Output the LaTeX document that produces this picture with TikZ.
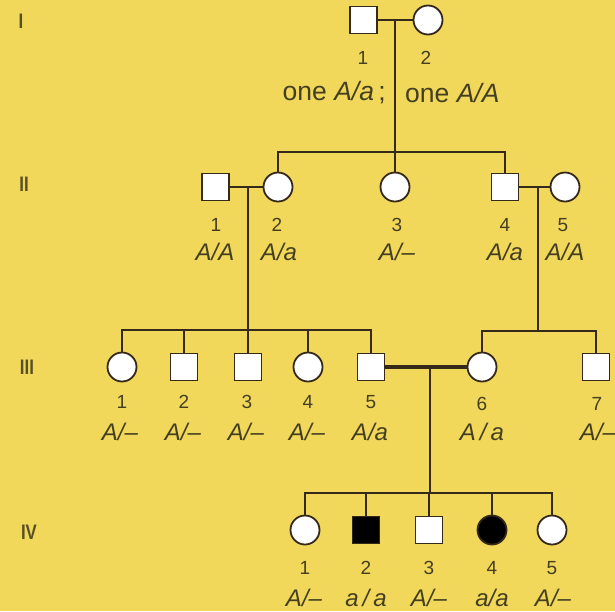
\documentclass[tikz,border=0pt]{standalone}
\usepackage{fontspec}
\setmainfont{Liberation Sans}
\usetikzlibrary{backgrounds}
\definecolor{bg}{HTML}{F1D75A}
\definecolor{linec}{HTML}{35291A}
\definecolor{txt}{HTML}{453F22}
\definecolor{gen}{HTML}{575024}
\begin{document}
\begin{tikzpicture}[x=1pt,y=-1pt,
  sq/.style={draw=linec, line width=1.8pt, fill=white, rectangle, minimum size=27pt, inner sep=0pt},
  sqa/.style={sq, fill=black},
  ci/.style={draw=linec, line width=1.8pt, fill=white, circle, minimum size=29pt, inner sep=0pt},
  cia/.style={ci, fill=black},
  ln/.style={draw=linec, line width=1.7pt},
  thickmate/.style={draw=linec, line width=3.8pt},
  num/.style={text=txt, font=\fontsize{19}{19}\selectfont, inner sep=0pt},
  gt/.style={text=txt, font=\fontsize{24}{24}\selectfont\itshape, inner sep=0pt},
  toptxt/.style={text=txt, font=\fontsize{26.5}{26.5}\selectfont, inner sep=0pt},
  genl/.style={text=gen, font=\fontsize{21}{21}\selectfont\bfseries, inner sep=0pt, xscale=0.8}
]
\useasboundingbox (0,0) rectangle (615,611);

% generation labels
\node[genl] (gI) at (21,21) {I};
\node[genl] (gII) at (24,184) {II};
\node[genl] (gIII) at (27,367) {III};
\node[genl] (gIV) at (29,532) {IV};

% ---------- Generation I ----------
\node[sq] (I1) at (363.5,20) {};
\node[ci] (I2) at (428,20) {};
\coordinate (mI) at (395,20);
\coordinate (sII) at (395,152);
\node[num] (nI1) at (363,58) {1};
\node[num] (nI2) at (426,58) {2};
\node[toptxt, anchor=east] (tI1) at (386,93) {one \itshape A/a\upshape\,;};
\node[toptxt, anchor=west] (tI2) at (405,93) {one \itshape A/A};

% ---------- Generation II ----------
\node[sq] (II1) at (215.5,187) {};
\node[ci] (II2) at (278,187) {};
\node[ci] (II3) at (395,187) {};
\node[sq] (II4) at (505,187) {};
\node[ci] (II5) at (565,187) {};
\coordinate (mII12) at (248,187);
\coordinate (mII45) at (538,187);

\node[num] (nII1) at (216,225) {1};
\node[num] (nII2) at (277,225) {2};
\node[num] (nII3) at (397,225) {3};
\node[num] (nII4) at (505,225) {4};
\node[num] (nII5) at (563,225) {5};
\node[gt] (tII1) at (215,252) {A/A};
\node[gt] (tII2) at (279,252) {A/a};
\node[gt] (tII3) at (397,252) {A/--};
\node[gt] (tII4) at (505,252) {A/a};
\node[gt] (tII5) at (565,252) {A/A};

% ---------- Generation III ----------
\node[ci] (III1) at (122,367) {};
\node[sq] (III2) at (184,367) {};
\node[sq] (III3) at (248,367) {};
\node[ci] (III4) at (308,367) {};
\node[sq] (III5) at (371,367) {};
\node[ci] (III6) at (482,367) {};
\node[sq] (III7) at (596,367) {};
\coordinate (sIIIa) at (248,330);
\coordinate (sIIIb) at (538,331);
\coordinate (mIII) at (430,367);
\coordinate (sIV) at (430,493);

\node[num] (nIII1) at (122,402) {1};
\node[num] (nIII2) at (184,402) {2};
\node[num] (nIII3) at (247,402) {3};
\node[num] (nIII4) at (308,402) {4};
\node[num] (nIII5) at (371,402) {5};
\node[num] (nIII6) at (482,404) {6};
\node[num] (nIII7) at (597,404) {7};
\node[gt] (tIII1) at (120,432) {A/--};
\node[gt] (tIII2) at (183,432) {A/--};
\node[gt] (tIII3) at (246,432) {A/--};
\node[gt] (tIII4) at (307,432) {A/--};
\node[gt] (tIII5) at (370,432) {A/a};
\node[gt] (tIII6) at (482,432) {A\,/\,a};
\node[gt] (tIII7) at (598,432) {A/--};

% ---------- Generation IV ----------
\node[ci] (IV1) at (305,530) {};
\node[sqa] (IV2) at (366,530) {};
\node[sq] (IV3) at (429,530) {};
\node[cia] (IV4) at (492,530) {};
\node[ci] (IV5) at (552,530) {};

\node[num] (nIV1) at (305,568) {1};
\node[num] (nIV2) at (366,568) {2};
\node[num] (nIV3) at (429,568) {3};
\node[num] (nIV4) at (492,568) {4};
\node[num] (nIV5) at (552,568) {5};
\node[gt] (tIV1) at (304,598) {A/--};
\node[gt] (tIV2) at (366,598) {a\,/\,a};
\node[gt] (tIV3) at (429,598) {A/--};
\node[gt] (tIV4) at (492,598) {a/a};
\node[gt] (tIV5) at (553,598) {A/--};

% ---------- connectors ----------
\begin{scope}[on background layer]
\fill[bg] (0,0) rectangle (615,611);
\draw[ln] (I1) -- (I2);
\draw[ln] (mI) -- (sII);
\draw[ln] (II2) |- (sII) -| (II4);
\draw[ln] (sII) -- (II3);

\draw[ln] (II1) -- (II2);
\draw[ln] (II4) -- (II5);
\draw[ln] (mII12) -- (sIIIa);
\draw[ln] (mII45) -- (sIIIb);

\draw[ln] (III1) |- (sIIIa) -| (III5);
\draw[ln] (III2) -- (III2 |- sIIIa);
\draw[ln] (III3) -- (sIIIa);
\draw[ln] (III4) -- (III4 |- sIIIa);
\draw[ln] (III6) |- (sIIIb) -| (III7);
\draw[thickmate] (III5) -- (III6);
\draw[ln] (mIII) -- (sIV);

\draw[ln] (IV1) |- (sIV) -| (IV5);
\draw[ln] (IV2) -- (IV2 |- sIV);
\draw[ln] (IV3) -- (IV3 |- sIV);
\draw[ln] (IV4) -- (IV4 |- sIV);
\end{scope}
\end{tikzpicture}
\end{document}
